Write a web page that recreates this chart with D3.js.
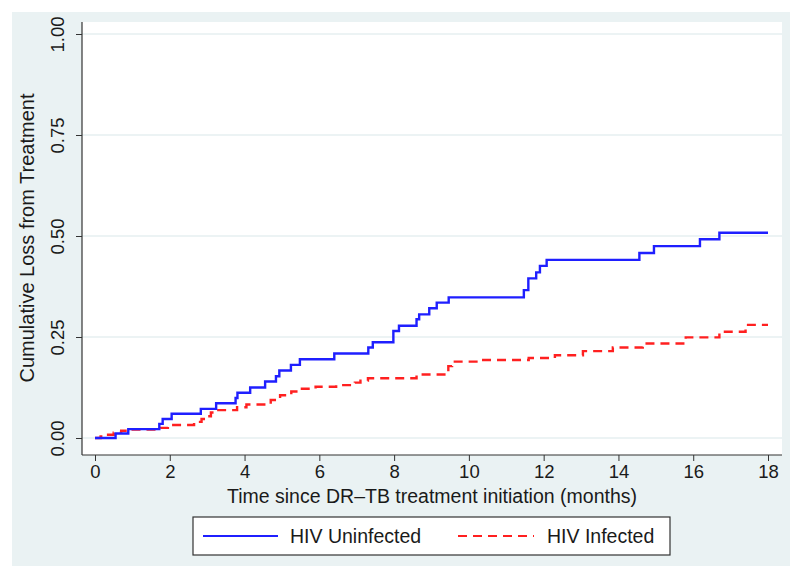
<!DOCTYPE html>
<html><head><meta charset="utf-8">
<script src="https://cdn.jsdelivr.net/npm/d3@7"></script>
<style>body{margin:0;background:#fff}svg{display:block}text{font-family:"Liberation Sans",Arial,sans-serif;fill:#1a1a1a}</style>
</head><body><svg id="c" width="800" height="578"></svg>
<script>
// Kaplan-Meier style step data: [time (months), cumulative loss]
const uninfectedTimes = [0,0.55,0.89,1.72,1.81,2.05,2.83,3.24,3.76,3.81,4.15,4.55,4.84,4.93,5.24,5.48,6.4,7.31,7.43,7.98,8.13,8.6,8.67,8.94,9.14,9.46,11.47,11.59,11.8,11.9,12.08,14.56,14.95,16.18,16.7,18];
const uninfectedValues = [0,0.011,0.022,0.035,0.047,0.06,0.072,0.086,0.099,0.112,0.125,0.14,0.153,0.167,0.181,0.195,0.209,0.224,0.237,0.265,0.278,0.294,0.306,0.321,0.335,0.348,0.366,0.395,0.41,0.426,0.441,0.458,0.475,0.492,0.508,0.508];
const infectedTimes = [0,0.15,0.35,0.5,0.7,0.9,1.75,1.95,2.65,2.85,2.95,3.1,3.25,3.8,4.05,4.7,4.95,5.25,5.5,5.9,6.45,6.95,7.1,7.3,8.6,9.4,9.45,9.55,10.3,11.6,12.3,13.05,13.85,14.65,15.8,16.7,17.4,18];
const infectedValues = [0,0.004,0.008,0.013,0.018,0.021,0.025,0.032,0.04,0.047,0.054,0.063,0.069,0.076,0.083,0.094,0.106,0.115,0.122,0.127,0.131,0.137,0.142,0.148,0.157,0.168,0.178,0.189,0.193,0.198,0.205,0.215,0.224,0.234,0.249,0.263,0.28,0.28];
const xTicks = [0,2,4,6,8,10,12,14,16,18];
const yTicks = [0,0.25,0.5,0.75,1];
const seriesNames = ["HIV Uninfected","HIV Infected"];
const seriesColors = ["#1f1fff","#ff2020"];

const svg = d3.select("#c");
svg.append("rect").attr("x",12).attr("y",12).attr("width",778).attr("height",554).attr("fill","#eaf2f3");
const L=82,R=782,T=22,B=455;
svg.append("rect").attr("x",L).attr("y",T).attr("width",R-L).attr("height",B-T).attr("fill","#fff");

const x = d3.scaleLinear().domain([0,18]).range([95,768]);
const y = d3.scaleLinear().domain([0,1]).range([438,34]);

// grid
svg.append("g").selectAll("line").data(yTicks).join("line")
  .attr("x1",L).attr("x2",R).attr("y1",d=>y(d)).attr("y2",d=>y(d))
  .attr("stroke","#e6eff0").attr("stroke-width",1.5);

// axes
const yAxis = d3.axisLeft(y).tickValues(yTicks).tickFormat(d3.format(".2f")).tickSize(6).tickPadding(4);
const gy = svg.append("g").attr("transform",`translate(${L},0)`).call(yAxis);
gy.select(".domain").attr("d",`M0,${T}V${B}`).attr("stroke","#333").attr("stroke-width",1.2);
gy.selectAll(".tick line").attr("stroke","#333");
gy.selectAll(".tick text").attr("font-size",18.5).attr("fill","#1a1a1a")
  .attr("text-anchor","middle").attr("x",null).attr("dy",null)
  .attr("transform","translate(-18,0) rotate(-90)").attr("y",0);

const xAxis = d3.axisBottom(x).tickValues(xTicks).tickFormat(d3.format("d")).tickSize(6).tickPadding(4);
const gx = svg.append("g").attr("transform",`translate(0,${B})`).call(xAxis);
gx.select(".domain").attr("d",`M${L},0H${R}`).attr("stroke","#333").attr("stroke-width",1.2);
gx.selectAll(".tick line").attr("stroke","#333");
gx.selectAll(".tick text").attr("font-size",18.5).attr("fill","#1a1a1a");

svg.append("text").attr("x",432).attr("y",503).attr("text-anchor","middle").attr("font-size",19.5)
  .text("Time since DR\u2013TB treatment initiation (months)");
svg.append("text").attr("transform","translate(34,238) rotate(-90)").attr("text-anchor","middle").attr("font-size",20)
  .text("Cumulative Loss from Treatment");

const line = d3.line().x(d=>x(d[0])).y(d=>y(d[1])).curve(d3.curveStepAfter);
const s1 = uninfectedTimes.map((t,i)=>[t,uninfectedValues[i]]);
const s2 = infectedTimes.map((t,i)=>[t,infectedValues[i]]);
svg.append("path").datum(s2).attr("d",line).attr("fill","none").attr("stroke",seriesColors[1]).attr("stroke-width",2.4).attr("stroke-dasharray","9,6");
svg.append("path").datum(s1).attr("d",line).attr("fill","none").attr("stroke",seriesColors[0]).attr("stroke-width",2.4);

// legend
const lg = svg.append("g");
lg.append("rect").attr("x",193).attr("y",517).attr("width",477).attr("height",38).attr("fill","#fff").attr("stroke","#333").attr("stroke-width",1.2);
lg.append("line").attr("x1",203).attr("x2",278).attr("y1",536).attr("y2",536).attr("stroke",seriesColors[0]).attr("stroke-width",2);
lg.append("text").attr("x",290).attr("y",543).attr("font-size",19.5).text(seriesNames[0]);
lg.append("line").attr("x1",458).attr("x2",534).attr("y1",536).attr("y2",536).attr("stroke",seriesColors[1]).attr("stroke-width",2).attr("stroke-dasharray","9,6");
lg.append("text").attr("x",547).attr("y",543).attr("font-size",19.5).text(seriesNames[1]);
</script></body></html>
